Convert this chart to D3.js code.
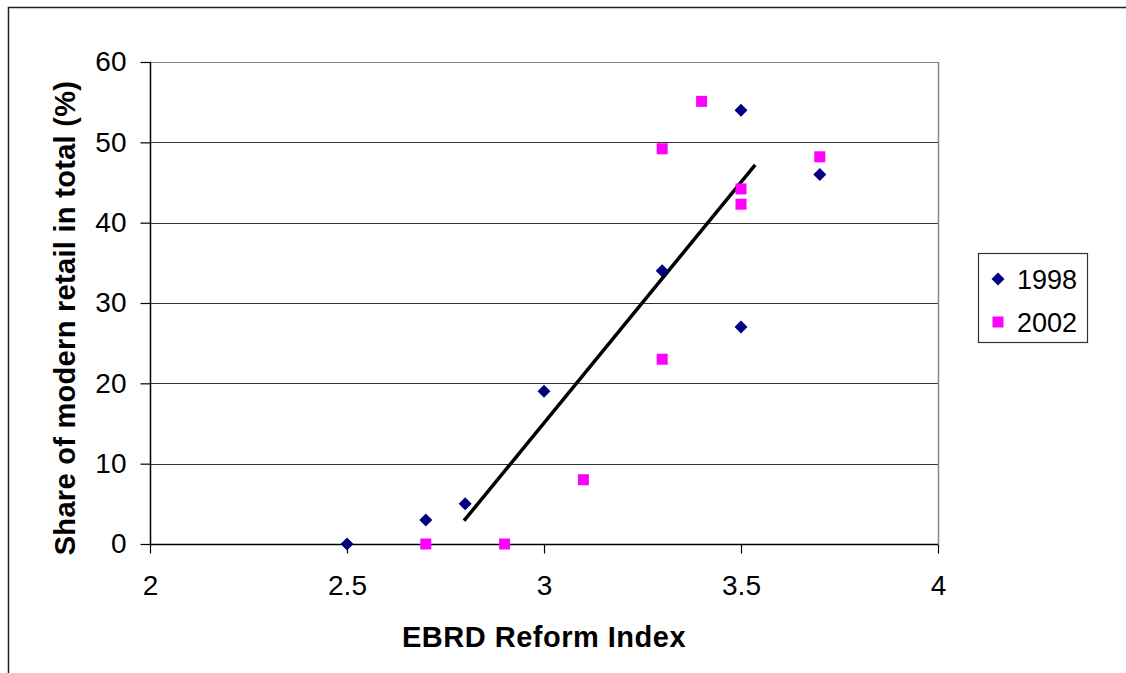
<!DOCTYPE html>
<html>
<head>
<meta charset="utf-8">
<script src="https://cdn.jsdelivr.net/npm/d3@7"></script>
<style>
  html, body { margin: 0; padding: 0; background: #fff; }
  svg { display: block; font-family: Arial, "Liberation Sans", sans-serif; }
</style>
</head>
<body>
<svg id="chart" width="1126" height="673"></svg>
<script>
// ---- Data ----
const xTicks = [2, 2.5, 3, 3.5, 4];
const yTicks = [0, 10, 20, 30, 40, 50, 60];
const series1998X = [2.5, 2.7, 2.8, 3.0, 3.3, 3.5, 3.5, 3.7];
const series1998Y = [0, 3, 5, 19, 34, 27, 54, 46];
const series2002X = [2.7, 2.9, 3.1, 3.3, 3.3, 3.4, 3.5, 3.5, 3.7];
const series2002Y = [0, 0, 8, 23, 49.2, 55.1, 44.2, 42.3, 48.2];
const trendX = [2.797, 3.536];
const trendY = [2.9, 47.2];
const legendLabels = ["1998", "2002"];
const xTitle = "EBRD Reform Index";
const yTitle = "Share of modern retail in total (%)";

// ---- Layout ----
const svg = d3.select("#chart");
const plot = { left: 150, right: 938, top: 62, bottom: 544 };
const x = d3.scaleLinear().domain([2, 4]).range([plot.left, plot.right]);
const y = d3.scaleLinear().domain([0, 60]).range([plot.bottom, plot.top]);

// outer frame
svg.append("rect")
  .attr("x", 8.5).attr("y", 7.5)
  .attr("width", 1200).attr("height", 700)
  .attr("fill", "#fff").attr("stroke", "#222").attr("stroke-width", 1.5);

// gridlines
svg.append("g").selectAll("line")
  .data(yTicks.filter(d => d > 0))
  .join("line")
  .attr("x1", plot.left).attr("x2", plot.right)
  .attr("y1", d => Math.round(y(d)) + 0.5).attr("y2", d => Math.round(y(d)) + 0.5)
  .attr("stroke", d => d === 60 ? "#888" : "#333").attr("stroke-width", 1);

// right border of plot area
svg.append("line")
  .attr("x1", plot.right + 0.5).attr("x2", plot.right + 0.5)
  .attr("y1", plot.top).attr("y2", plot.bottom)
  .attr("stroke", "#888").attr("stroke-width", 1.5);

// axes
const fmt = d => d3.format("")(d);
const xAxis = d3.axisBottom(x).tickValues(xTicks).tickSize(9).tickPadding(22).tickFormat(fmt);
const yAxis = d3.axisLeft(y).tickValues(yTicks).tickSize(10).tickPadding(14).tickFormat(fmt);

const gx = svg.append("g").attr("transform", `translate(0,${plot.bottom + 0.5})`).call(xAxis);
const gy = svg.append("g").attr("transform", `translate(${plot.left + 0.5},0)`).call(yAxis);
[gx, gy].forEach(g => {
  g.select(".domain").attr("stroke", "#000").attr("stroke-width", 1.5);
  g.selectAll(".tick line").attr("stroke", "#000").attr("stroke-width", 1.2);
  g.selectAll(".tick text").attr("font-size", 28).attr("fill", "#000")
    .attr("font-family", "Arial, 'Liberation Sans', sans-serif");
});
gx.select(".domain").attr("d", `M${plot.left},0H${plot.right}`);
gy.select(".domain").attr("d", `M0,${plot.bottom}V${plot.top}`);

// trend line
svg.append("line")
  .attr("x1", x(trendX[0])).attr("y1", y(trendY[0]))
  .attr("x2", x(trendX[1])).attr("y2", y(trendY[1]))
  .attr("stroke", "#000").attr("stroke-width", 3.5);

// series 1998 diamonds
const pts1998 = series1998X.map((v, i) => [v, series1998Y[i]]);
const pts2002 = series2002X.map((v, i) => [v, series2002Y[i]]);
const diamond = "M0,-6.5L6.5,0L0,6.5L-6.5,0Z";

svg.append("g").selectAll("path")
  .data(pts1998).join("path")
  .attr("d", diamond)
  .attr("transform", d => `translate(${x(d[0])},${y(d[1])})`)
  .attr("fill", "#000080");

svg.append("g").selectAll("rect")
  .data(pts2002).join("rect")
  .attr("x", d => x(d[0]) - 5.5).attr("y", d => y(d[1]) - 5.5)
  .attr("width", 11).attr("height", 11)
  .attr("fill", "#FF00FF");

// axis titles
svg.append("text")
  .attr("x", (plot.left + plot.right) / 2).attr("y", 647)
  .attr("text-anchor", "middle").attr("font-size", 29).attr("font-weight", "bold")
  .attr("letter-spacing", 0.5)
  .text(xTitle);

svg.append("text")
  .attr("transform", "translate(75,318) rotate(-90)")
  .attr("text-anchor", "middle").attr("font-size", 29).attr("font-weight", "bold")
  .attr("letter-spacing", 0.3)
  .text(yTitle);

// legend
const lg = svg.append("g");
lg.append("rect")
  .attr("x", 978.5).attr("y", 253.5).attr("width", 109).attr("height", 89)
  .attr("fill", "#fff").attr("stroke", "#333").attr("stroke-width", 1.2);
lg.append("path").attr("d", diamond).attr("transform", "translate(998,279)").attr("fill", "#000080");
lg.append("rect").attr("x", 992.5).attr("y", 316.5).attr("width", 11).attr("height", 11).attr("fill", "#FF00FF");
lg.selectAll("text.lab").data(legendLabels).join("text")
  .attr("class", "lab")
  .attr("x", 1017).attr("y", (d, i) => 289 + i * 43)
  .attr("font-size", 27).attr("fill", "#000")
  .text(d => d);
</script>
</body>
</html>
